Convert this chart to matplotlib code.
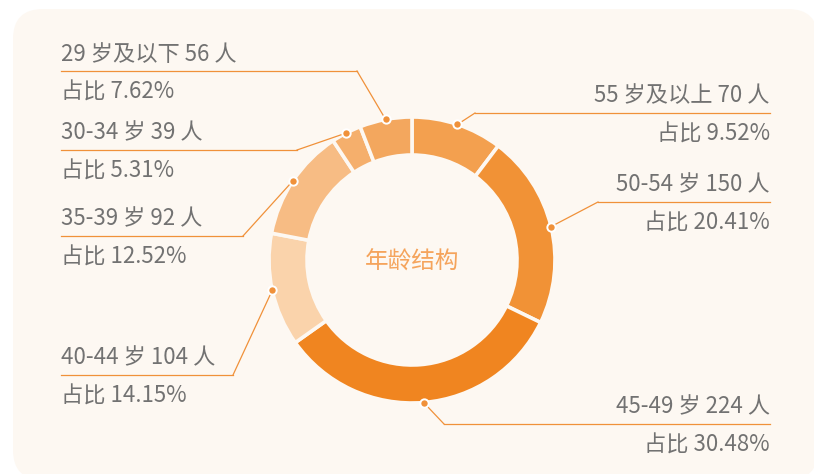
import matplotlib
matplotlib.use("Agg")
import matplotlib.pyplot as plt
import numpy as np
from matplotlib.patches import FancyBboxPatch

plt.rcParams['font.family'] = ['Noto Sans CJK SC', 'DejaVu Sans']

# data, clockwise from 12 o'clock
groups = ['55 岁及以上', '50-54 岁', '45-49 岁', '40-44 岁', '35-39 岁', '30-34 岁', '29 岁及以下']
people = [70, 150, 224, 104, 92, 39, 56]
pct_text = ['9.52%', '20.41%', '30.48%', '14.15%', '12.52%', '5.31%', '7.62%']
# share of the ring each slice takes up in the picture (%)
arc_share = [10.3, 21.9, 33.0, 12.8, 12.7, 3.4, 5.9]
colors = ['#F3A04F', '#F19236', '#F08520', '#FAD3AB', '#F7BC84', '#F5AF6C', '#F3A75E']

# label layout: side, y of the underline, x of the elbow
label_side = ['right', 'right', 'right', 'left', 'left', 'left', 'left']
label_line_y = [113, 202, 424, 375, 236, 150, 71]
label_elbow_x = [475, 598, 444, 233, 243, 297, 357]

BG = '#FDF8F2'
LINE = '#F0913A'
TEXT = '#727272'
W, H = 814, 474
cx, cy, R, ring = 412, 260, 143, 38

fig = plt.figure(figsize=(W / 100, H / 100), dpi=100)
fig.patch.set_facecolor('white')
ax = fig.add_axes([0, 0, 1, 1])

# card background
ax.add_patch(FancyBboxPatch((13, 9), 805, 471,
                            boxstyle="round,pad=0,rounding_size=30",
                            fc=BG, ec='none', zorder=0))

wedges, _ = ax.pie(arc_share, colors=colors, center=(cx, cy), radius=R,
                   startangle=-90, counterclock=True,
                   wedgeprops=dict(width=ring, edgecolor=BG, linewidth=2.6))
for w in wedges:
    w.set_zorder(2)

ax.text(cx, cy + 2, '年龄结构', color='#F5A45C', fontsize=17,
        fontweight='light', ha='center', va='center', zorder=3)

for i, w in enumerate(wedges):
    mid = np.deg2rad((w.theta1 + w.theta2) / 2)
    px = cx + R * np.cos(mid)
    py = cy + R * np.sin(mid)
    ly = label_line_y[i]
    ex = label_elbow_x[i]
    if label_side[i] == 'left':
        x0, x1, tx, ha = 61, ex, 61, 'left'
    else:
        x0, x1, tx, ha = ex, 770, 770, 'right'
    ax.plot([px, ex], [py, ly], color=LINE, lw=0.9, zorder=3)
    ax.plot([x0, x1], [ly, ly], color=LINE, lw=0.9, zorder=3)
    ax.plot(px, py, 'o', ms=6, mfc=LINE, mec='white', mew=1.4, zorder=4)
    ax.text(tx, ly - 17, f'{groups[i]} {people[i]} 人', color=TEXT,
            fontsize=16, fontweight='light', ha=ha, va='center', zorder=3)
    ax.text(tx, ly + 21, f'占比 {pct_text[i]}', color=TEXT,
            fontsize=16, fontweight='light', ha=ha, va='center', zorder=3)

ax.set_xlim(0, W)
ax.set_ylim(H, 0)
ax.set_aspect('auto')
ax.axis('off')

fig.savefig('out.png', dpi=100, facecolor=fig.get_facecolor())
